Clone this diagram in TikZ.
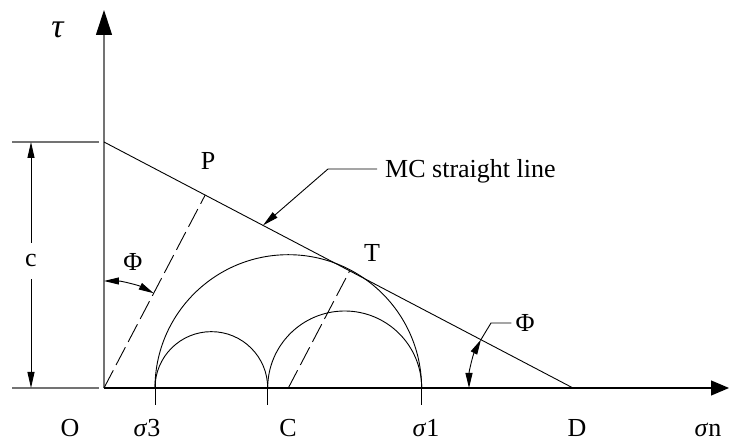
\documentclass[tikz,border=0pt]{standalone}
\usepackage{fontspec}
\setmainfont{Liberation Serif}
\usetikzlibrary{arrows.meta,calc}

\begin{document}
\begin{tikzpicture}[x=1pt,y=1pt,
  lbl/.style={font=\fontsize{26}{30}\selectfont,inner sep=0pt},
  ink/.style={draw=black,line width=0.9pt},
  grayline/.style={draw=black!55,line width=1.1pt},
  dimarrow/.style={ink,-{Triangle[length=16pt,width=7pt]}},
  dimboth/.style={ink,{Triangle[length=15pt,width=7pt]}-{Triangle[length=15pt,width=7pt]}},
  dashline/.style={ink,dash pattern=on 20pt off 6pt}]
\useasboundingbox (-104,-55) rectangle (627,388);
% points:
\coordinate (O) at (0,0);
\coordinate (A) at (0,246);
\coordinate (D) at (469,0);
\coordinate (s3) at (51,0);
\coordinate (cTick) at (163.7,0);
\coordinate (s1) at (317.7,0);
\coordinate (ctr) at (184.3,0);
\coordinate (P) at ($(A)!(O)!(D)$);
\coordinate (T) at ($(A)!(ctr)!(D)$);
\coordinate (tauEnd) at (0,378);
\coordinate (snEnd) at (625,0);
% axes:
\draw[grayline,-{Triangle[length=25pt,width=16pt,color=black]}] (O) -- (tauEnd);
\draw[ink,line width=1.1pt,-{Triangle[length=18pt,width=15pt]}] (O) -- (snEnd);
\draw[grayline] ($(A)+(-5,0)$) -- ++(-87,0);
\draw[grayline] ($(O)+(-5,0)$) -- ++(-87,0);
% dimension c:
\node[lbl,minimum height=36pt] (cLbl) at (-73,127) {c};
\coordinate (cTop) at (-73,246);
\coordinate (cBot) at (-73,0);
\draw[dimarrow] (cLbl.north) -- (cTop);
\draw[dimarrow] (cLbl.south) -- (cBot);
% MC line and circles:
\draw[ink] (A) -- (D);
\draw[ink] (s3) arc[start angle=180,end angle=0,radius=133.3];
\draw[ink] (s3) arc[start angle=180,end angle=0,radius=56.35];
\draw[ink] (cTick) arc[start angle=180,end angle=0,radius=77];
\foreach \p in {s3,cTick,s1}
  \draw[ink] ($(\p)+(0,6)$) -- ++(0,-23);
\draw[dashline] (O) -- (P);
\draw[dashline] (ctr) -- (T);
% angles:
\coordinate (phiL) at (0,107);
\draw[dimboth] (phiL) arc[start angle=90,end angle=62.38,radius=107];
\node[lbl] (phiLLbl) at (29,126) {Φ};
\coordinate (phiRlow) at (365,0);
\coordinate (phiRtop) at ($(D)+(152.32:104)$);
\draw[dimboth] (phiRlow) arc[start angle=180,end angle=152.32,radius=104];
\node[lbl,inner sep=4pt] (phiR) at (421,65) {Φ};
\coordinate (phiRbend) at (387,65);
\draw[ink] (phiRtop) -- (phiRbend) -- (phiR.west);
% leader MC:
\node[lbl,anchor=base west,inner sep=4pt] (mcText) at (277,210) {MC straight line};
\coordinate (mcEnd) at (273,219);
\coordinate (mcBend) at (224,219);
\coordinate (mcTip) at ($(A)!0.339!(D)$);
\draw[dimarrow] (mcEnd) -- (mcBend) -- (mcTip);
% labels:
\node[lbl,font=\fontsize{34}{38}\selectfont] (tauLbl) at (-46,358) {\textit{τ}};
\node[lbl,anchor=base] (PLbl) at (104,218) {P};
\node[lbl,anchor=base] (TLbl) at (268,126) {T};
\node[lbl,anchor=base] (OLbl) at (-34,-49) {O};
\node[lbl,anchor=base] (s3Lbl) at (43,-49) {\textit{σ}3};
\node[lbl,anchor=base] (CLbl) at (184,-49) {C};
\node[lbl,anchor=base] (s1Lbl) at (322,-49) {\textit{σ}1};
\node[lbl,anchor=base] (DLbl) at (473,-49) {D};
\node[lbl,anchor=base] (snLbl) at (604,-49) {\textit{σ}n};
\end{tikzpicture}
\end{document}
